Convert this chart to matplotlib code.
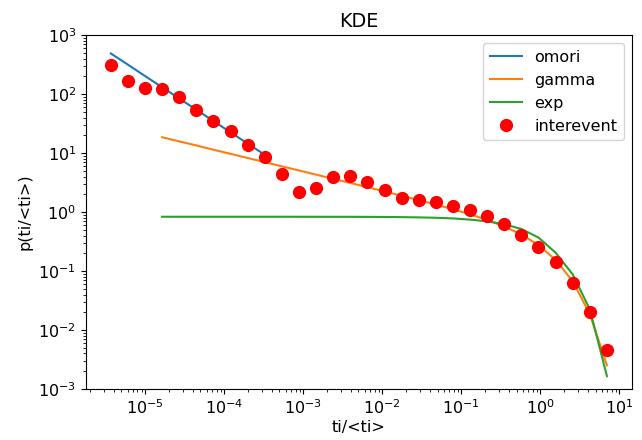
import matplotlib
matplotlib.use("Agg")
import matplotlib.pyplot as plt

# bin centres (ti/<ti>) and measured interevent density
x = [3.68e-6, 6.06e-6, 9.97e-6, 1.64e-5, 2.70e-5, 4.45e-5, 7.32e-5, 1.205e-4,
     1.98e-4, 3.27e-4, 5.37e-4, 8.84e-4, 1.455e-3, 2.39e-3, 3.94e-3, 6.49e-3,
     1.067e-2, 1.757e-2, 2.89e-2, 4.76e-2, 7.83e-2, 0.129, 0.212, 0.349,
     0.575, 0.946, 1.557, 2.56, 4.22, 6.95]
interevent = [310, 166, 128, 122, 89, 53.5, 35, 23.9, 13.8, 8.65, 4.36, 2.16,
              2.58, 3.87, 4.08, 3.22, 2.33, 1.75, 1.60, 1.50, 1.26, 1.07,
              0.856, 0.619, 0.408, 0.258, 0.142, 0.0626, 0.0202, 0.00453]

# fitted curves
omori = [490, 316, 203, 131, 84.3, 54.3, 35.0, 22.5, 14.5, 9.35]
gamma = [18.6, 15.8, 13.5, 11.4, 9.72, 8.26, 7.02, 5.97, 5.08, 4.31, 3.66,
         3.12, 2.64, 2.24, 1.89, 1.60, 1.34, 1.117, 0.916, 0.736, 0.571,
         0.417, 0.276, 0.155, 0.0673, 0.0187, 0.00252]
expo = [0.833, 0.833, 0.833, 0.833, 0.833, 0.833, 0.833, 0.833, 0.832, 0.832,
        0.831, 0.831, 0.829, 0.826, 0.821, 0.813, 0.801, 0.781, 0.745, 0.698,
        0.622, 0.516, 0.37, 0.205, 0.088, 0.0225, 0.00165]

plt.rcParams["font.size"] = 11.5

fig = plt.figure(figsize=(6.42, 4.40), dpi=100)
ax = fig.add_axes([0.134, 0.116, 0.850, 0.804])

ax.plot(x[:10], omori, label="omori")
ax.plot(x[3:], gamma, label="gamma")
ax.plot(x[3:], expo, label="exp")
ax.plot(x, interevent, "o", color="red", markersize=8.5, label="interevent")

ax.set_xscale("log")
ax.set_yscale("log")
ax.set_ylim(1e-3, 1e3)
ax.set_title("KDE")
ax.set_xlabel("ti/<ti>", labelpad=2)
ax.set_ylabel("p(ti/<ti>)")
ax.legend(loc="upper right")

fig.savefig("out.png")
